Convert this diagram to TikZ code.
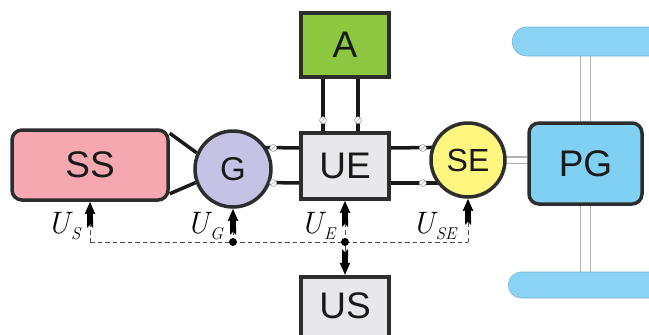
\documentclass[tikz,border=0pt]{standalone}
\usepackage{fontspec}
\setsansfont{Liberation Sans}
\usetikzlibrary{arrows.meta,calc,backgrounds}
\definecolor{edge}{HTML}{2D2D2D}
\definecolor{ssred}{HTML}{F5A8AF}
\definecolor{genblue}{HTML}{C5C3E5}
\definecolor{uegray}{HTML}{E8E8EA}
\definecolor{agreen}{HTML}{8DC63F}
\definecolor{seyellow}{HTML}{FFF67F}
\definecolor{pgblue}{HTML}{7FD0F2}
\definecolor{wheelblue}{HTML}{8AD3F4}
\newcommand{\ulab}[1]{\textit{U}\kern-2pt\raisebox{-6pt}{\fontsize{17}{17}\selectfont\textit{#1}}}

\begin{document}
\begin{tikzpicture}[x=1pt,y=-1pt,line width=0.8pt,
  blk/.style={draw=edge,line width=3.5pt,inner sep=0pt,text=black!90,
    font=\sffamily\fontsize{37}{37}\selectfont},
  wire/.style={draw=black!90,line width=3.5pt},
  term/.style={circle,draw=gray!70,fill=white,line width=0.6pt,inner sep=0pt,minimum size=7pt,
    path picture={\draw[gray!70,line width=0.6pt] (path picture bounding box.south west) -- (path picture bounding box.north east);}},
  shaft/.style={draw=gray!60,line width=1.1pt,double=white,double distance=#1},
  wheel/.style={draw=wheelblue!85!black,fill=wheelblue,line width=0.6pt,inner sep=0pt,anchor=west},
  ctl/.style={black,line width=6pt,{Triangle Cap[reversed]}-{Stealth[length=12pt,width=10pt,inset=1pt]}},
  sig/.style={draw=black!70,line width=1pt,dash pattern=on 4.5pt off 3pt},
  tap/.style={circle,fill=black,inner sep=0pt,minimum size=8pt},
  lbl/.style={anchor=base east,inner sep=0pt,font=\rmfamily\fontsize{31}{31}\selectfont}]
\useasboundingbox (0,0) rectangle (649,335);
% blocks
\node[blk,rounded corners=10pt,fill=ssred,minimum width=156pt,minimum height=70pt] (SS) at (90,165) {SS};
\node[blk,circle,fill=genblue,minimum size=76pt,font=\sffamily\fontsize{33}{33}\selectfont] (G) at (233,169) {G};
\node[blk,fill=uegray,minimum width=88pt,minimum height=66pt] (UE) at (345,166) {UE};
\node[blk,fill=agreen,minimum width=88pt,minimum height=64pt] (A) at (345,45) {A};
\node[blk,circle,fill=seyellow,minimum size=74pt,font=\sffamily\fontsize{32}{32}\selectfont] (SE) at (468,160) {SE};
\node[blk,rounded corners=10pt,fill=pgblue,minimum width=113pt,minimum height=81pt] (PG) at (585.5,163.5) {PG};
\node[blk,fill=uegray,minimum width=88pt,text height=42pt,text depth=38pt,anchor=north] (US) at (345,275) {US};
% wheels
\node[wheel,rounded corners=14.5pt,minimum width=190pt,minimum height=29pt] (W1) at (512,41.5) {};
\node[wheel,rounded corners=13pt,minimum width=195pt,minimum height=26pt] (W2) at (508,285) {};
% wires and shafts
\begin{scope}[on background layer]
\fill[white] (0,0) rectangle (649,335);
\draw[wire] ($(SS.north east)+(0,5)$) -- (G.156);
\draw[wire] ($(SS.south east)+(0,-8)$) -- (G.200);
\draw[wire] ($(UE.west)+(0,-18)$) -- ($(G.center)+(0,-22)$);
\draw[wire] ($(UE.west)+(0,17)$) -- ($(G.center)+(0,13)$);
\draw[wire] ($(UE.east)+(0,-18)$) -- ($(SE.center)+(0,-13)$);
\draw[wire] ($(UE.east)+(0,17)$) -- ($(SE.center)+(0,23)$);
\draw[wire] ($(UE.north)+(-22,0)$) -- ($(A.south)+(-22,0)$);
\draw[wire] ($(UE.north)+(13,0)$) -- ($(A.south)+(13,0)$);
\draw[shaft=5pt] (SE.center) -- (SE.center -| PG.west);
\draw[shaft=9pt] (PG.north) -- (PG.north |- W1.south);
\draw[shaft=9pt] (PG.south) -- (PG.south |- W2.north);
\end{scope}
% terminals
\foreach \dy/\nm in {-18/a,17/b} {
  \node[term] (tG\nm) at ($(UE.west)+(-26,\dy)$) {};
  \node[term] (tS\nm) at ($(UE.east)+(32,\dy)$) {};
}
\node[term] (tAa) at ($(UE.north)+(-22,-11)$) {};
\node[term] (tAb) at ($(UE.north)+(13,-11)$) {};
% control signals
\coordinate (bus) at (0,242);
\draw[sig] (SS.south |- bus) -- (SE.south |- bus);
\foreach \nd in {SS,G,UE,SE} {
  \draw[ctl] ($(\nd.south)+(0,26)$) -- (\nd.south);
  \draw[sig] (\nd.south |- bus) -- ($(\nd.south)+(0,22)$);
}
\node[tap] (tapG) at (G.south |- bus) {};
\node[tap] (tapE) at (UE.south |- bus) {};
\draw[ctl] ($(US.north)+(0,-26)$) -- (US.north);
\draw[sig] (tapE) -- ($(US.north)+(0,-22)$);
% labels
\node[lbl] (lS) at ($(SS.south)+(-8,32)$) {\ulab{S}};
\node[lbl] (lG) at ($(G.south)+(-9,25)$) {\ulab{G}};
\node[lbl] (lE) at ($(UE.south)+(-8,33)$) {\ulab{E}};
\node[lbl] (lSE) at ($(SE.south)+(-10,35)$) {\ulab{SE}};
\end{tikzpicture}
\end{document}
